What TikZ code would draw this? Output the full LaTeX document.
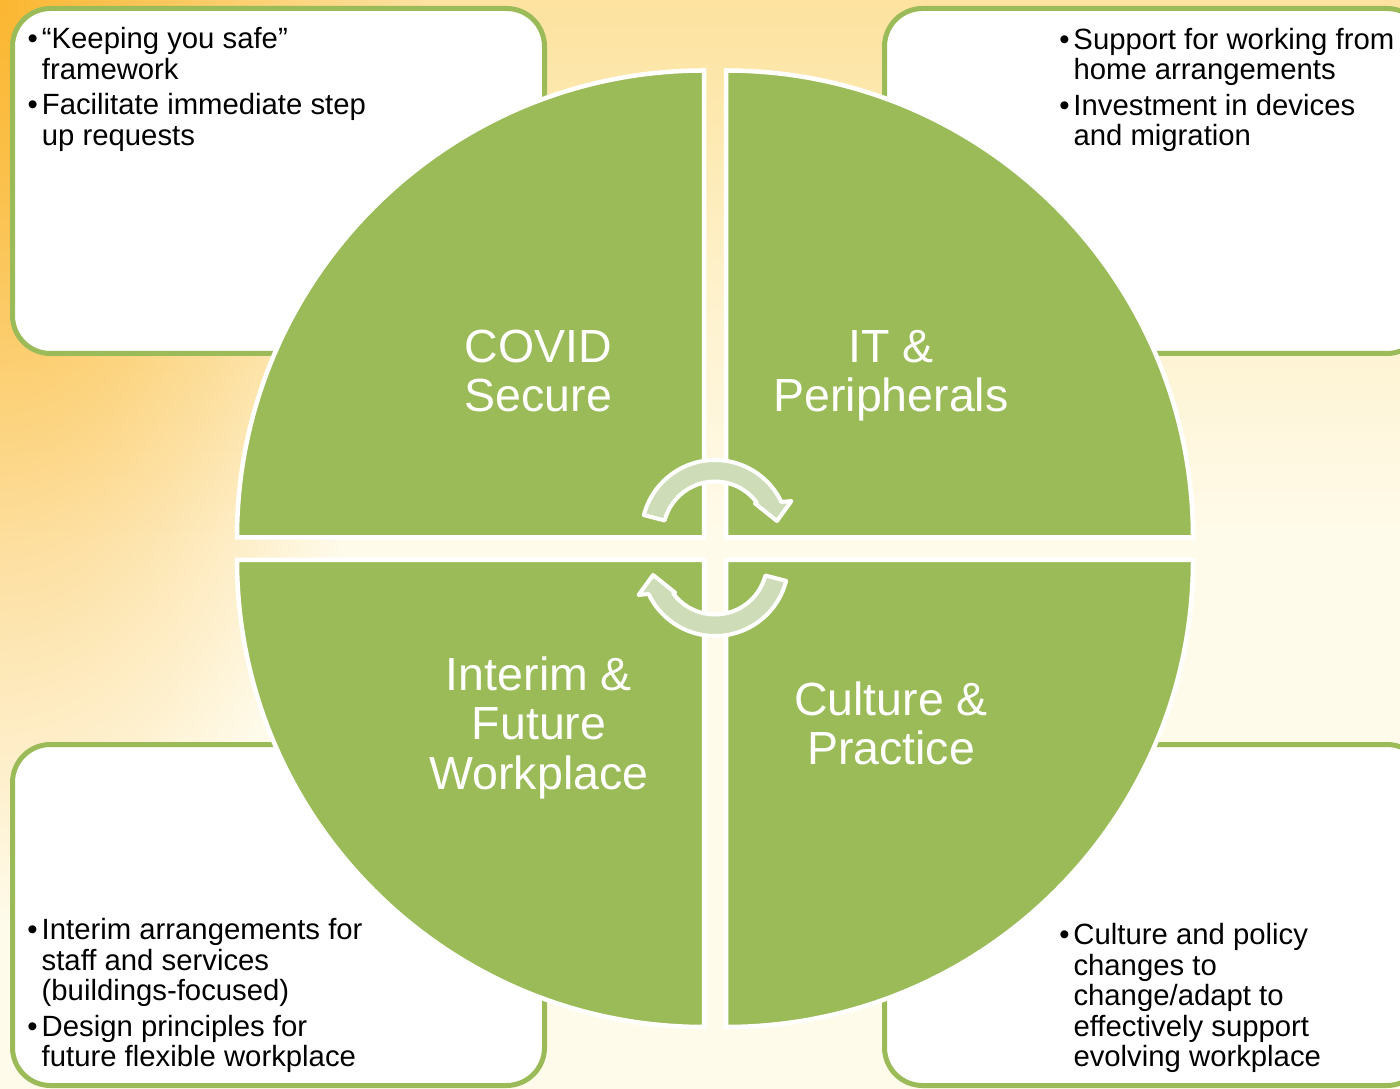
\documentclass[tikz,border=0pt]{standalone}
\usepackage{fontspec}
\setmainfont{Liberation Sans}
\usetikzlibrary{fadings}

\definecolor{leaf}{HTML}{9BBB59}
\definecolor{leafpale}{HTML}{CEDDB8}
\definecolor{sunA}{HTML}{FBB732}
\definecolor{washTop}{HTML}{FDE2A0}
\definecolor{washHigh}{HTML}{FDE8AE}
\definecolor{washMid}{HTML}{FEF2CE}
\definecolor{washLow}{HTML}{FFFBEB}

% pale wash, yellow along the top, cream further down
% (the filled path spans 25bp to 75bp of the shading)
\pgfdeclareverticalshading{skywash}{100bp}{%
  color(0bp)=(washLow); color(50bp)=(washLow);
  color(61bp)=(washMid); color(70bp)=(washHigh);
  color(75bp)=(washTop); color(100bp)=(washTop)}

% orange glow in the upper left corner
\tikzfading[name=glowfade, inner color=transparent!0, outer color=transparent!100]

\newcommand\firststrut{\rule{0pt}{24pt}}
\newcommand\labelstrut{\rule{0pt}{40pt}}
\newcommand\bul{\makebox[0pt][r]{\textbullet\hspace{4pt}}}

% circular arrow outline, centred on the local origin
\newcommand\cyclepath{%
  (165.5:73.5) arc[start angle=165.5, end angle=25.4, radius=73.5]
  -- (23:83) -- (11.4:63.2) -- (37:50) -- (36.6:52)
  arc[start angle=36.6, end angle=165.5, radius=52] -- cycle}

\begin{document}
\begin{tikzpicture}[x=1pt, y=1pt,
  infobox/.style={draw=leaf, fill=white, line width=5pt, rounded corners=38pt,
    minimum width=532pt, inner sep=0pt},
  bodytext/.style={anchor=north west, inner sep=0pt, align=left,
    font=\fontsize{29.3pt}{30.5pt}\selectfont, text=black},
  quarter/.style={fill=leaf, draw=white, line width=4.5pt, line join=miter},
  quartertext/.style={anchor=north, inner sep=0pt, align=center,
    font=\fontsize{46.5pt}{49.5pt}\selectfont, text=white},
  cyclearrow/.style={fill=leafpale, draw=white, line width=4pt, line join=round}]

\useasboundingbox (0,0) rectangle (1400,1088);
\clip (0,0) rectangle (1400,1088);

% background
\shade[shading=skywash] (0,0) rectangle (1400,1088);
\fill[sunA, path fading=glowfade] (0,1088) ellipse (420 and 920);

% corner panels
\node[infobox, minimum height=345pt] (boxTL) at (278.5,907) {};
\node[infobox, minimum height=345pt, minimum width=540.5pt] (boxTR) at (1154.75,907) {};
\node[infobox, minimum height=341pt] (boxBL) at (278.5,173) {};
\node[infobox, minimum height=341pt, minimum width=540.5pt] (boxBR) at (1154.75,173) {};

\node[bodytext] (txtTL) at (41.7,1063.5)
  {\firststrut\bul“Keeping you safe”\\ framework\\[5pt]
   \bul Facilitate immediate step\\ up requests};
\node[bodytext] (txtTR) at (1073.3,1062.7)
  {\firststrut\bul Support for working from\\ home arrangements\\[5pt]
   \bul Investment in devices\\ and migration};
\node[bodytext] (txtBL) at (41.5,172.5)
  {\firststrut\bul Interim arrangements for\\ staff and services\\ (buildings-focused)\\[5pt]
   \bul Design principles for\\ future flexible workplace};
\node[bodytext] (txtBR) at (1073.3,167.5)
  {\firststrut\bul Culture and policy\\ changes to\\ change/adapt to\\ effectively support\\ evolving workplace};

% four quarters of the central disc
\draw[quarter] (704,550.5) -- ++(-467,0) arc[start angle=180, end angle=90, radius=467] -- cycle;
\draw[quarter] (726,550.5) -- ++(0,467) arc[start angle=90, end angle=0, radius=467] -- cycle;
\draw[quarter] (704,528) -- ++(-467,0) arc[start angle=180, end angle=270, radius=467] -- cycle;
\draw[quarter] (726,528) -- ++(467,0) arc[start angle=0, end angle=-90, radius=467] -- cycle;

\node[quartertext] (covid) at (538.5,766) {\labelstrut COVID\\ Secure};
\node[quartertext] (itp) at (891,766) {\labelstrut IT \&\\ Peripherals};
\node[quartertext] (interim) at (539,438) {\labelstrut Interim \&\\ Future\\ Workplace};
\node[quartertext] (culture) at (891,413) {\labelstrut Culture \&\\ Practice};

% cycle arrows in the middle
\begin{scope}[shift={(715,554.5)}]
  \draw[cyclearrow] \cyclepath;
\end{scope}
\begin{scope}[shift={(715,525.5)}, rotate=180]
  \draw[cyclearrow] \cyclepath;
\end{scope}

\end{tikzpicture}
\end{document}
